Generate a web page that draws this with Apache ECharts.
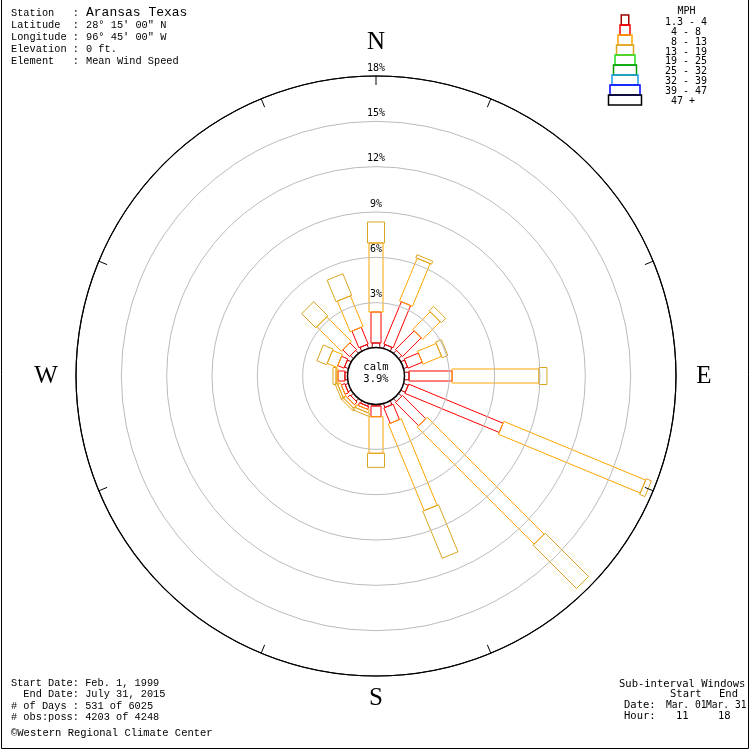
<!DOCTYPE html>
<html><head><meta charset="utf-8">
<script src="https://cdn.jsdelivr.net/npm/echarts@6/dist/echarts.min.js"></script>
<style>html,body{margin:0;padding:0;background:#fff}#c{width:750px;height:750px}</style>
</head><body><div id="c"></div>
<script>
// ---------- data ----------
const directions = ['N','NNE','NE','ENE','E','ESE','SE','SSE','S','SSW','SW','WSW','W','WNW','NW','NNW'];
const speedClassLabels = ['1.3 - 4',' 4 - 8',' 8 - 13','13 - 19','19 - 25','25 - 32','32 - 39','39 - 47',' 47 +'];
// percent of observations per direction, per speed class (MPH)
const freq_1_4   = [0.33, 0.30, 0.30, 0.30, 0.33, 0.35, 0.30, 0.30, 0.13, 0.20, 0.25, 0.25, 0.20, 0.30, 0.30, 0.30];
const freq_4_8   = [2.05, 3.03, 1.75, 1.02, 2.85, 6.76, 2.17, 1.10, 0.71, 0.20, 0.25, 0.25, 0.46, 0.45, 0.62, 1.20];
const freq_8_13  = [4.57, 3.06, 1.64, 1.33, 5.75, 10.16, 10.95, 6.20, 2.42, 0.20, 0.20, 0.20, 0.13, 0.70, 2.30, 2.20];
const freq_13_19 = [1.39, 0.21, 0.41, 0.41, 0.53, 0.37, 4.05, 3.37, 0.93, 0.20, 0.15, 0.15, 0.20, 0.70, 1.32, 1.54];
const calmPercent = 3.9;
const radiusMax = 18;
const radiusStep = 3;
// compass tick marks drawn on the outer ring (degrees clockwise from north)
const ringTickAngles = [0, 22.5, 67.5, 112.5, 157.5, 202.5, 247.5, 292.5, 337.5];

const headerLabels = ['Station   :', 'Latitude  :', 'Longitude :', 'Elevation :', 'Element   :'];
const headerValues = ['Aransas Texas', "28\u00B0 15' 00\" N", "96\u00B0 45' 00\" W", '0 ft.', 'Mean Wind Speed'];
const footerLeft = ['Start Date: Feb. 1, 1999', '  End Date: July 31, 2015', '# of Days : 531 of 6025', '# obs:poss: 4203 of 4248'];
const creditText = '\u00A9Western Regional Climate Center';

// ---------- styles ----------
const classColors = ['#A00000','#FF0000','#FFA500','#DAA520','#22DD22','#009900','#1E9BE6','#0000FF','#000000'];
const classWidths = [7.5, 10, 14, 17, 20, 23, 26, 30, 33];
const serifMono = "'Liberation Mono', 'DejaVu Sans Mono', monospace";
const sansMono = "'DejaVu Sans Mono', monospace";
const sectorDeg = 360 / directions.length;

const classSeries = [freq_1_4, freq_4_8, freq_8_13, freq_13_19];
const segments = [];
directions.forEach((d, i) => {
  let start = 0;
  classSeries.forEach((arr, k) => {
    const v = arr[i];
    if (v > 0) { segments.push([i * sectorDeg, start, start + v, k]); }
    start += v;
  });
});

function renderBar(params, api) {
  const ang = api.value(0), r0 = api.value(1), r1 = api.value(2), k = api.value(3);
  const a = api.coord([0, ang]), b = api.coord([radiusMax, ang]);
  const len = Math.hypot(b[0] - a[0], b[1] - a[1]);
  const ux = (b[0] - a[0]) / len, uy = (b[1] - a[1]) / len;
  const nx = -uy, ny = ux;
  const p0 = api.coord([r0, ang]), p1 = api.coord([r1, ang]);
  const h = classWidths[k] / 2;
  return {
    type: 'polygon',
    shape: { points: [
      [p0[0] + nx * h, p0[1] + ny * h], [p1[0] + nx * h, p1[1] + ny * h],
      [p1[0] - nx * h, p1[1] - ny * h], [p0[0] - nx * h, p0[1] - ny * h]] },
    style: { fill: 'none', stroke: classColors[k], lineWidth: 1 }
  };
}
function renderTick(params, api) {
  const ang = api.value(0);
  const p0 = api.coord([radiusMax * 0.967, ang]), p1 = api.coord([radiusMax, ang]);
  return { type: 'line', shape: { x1: p0[0], y1: p0[1], x2: p1[0], y2: p1[1] }, style: { stroke: '#000', lineWidth: 1 } };
}

const graphics = [];
// frame
graphics.push({ type: 'polyline', shape: { points: [[1.5, 0], [1.5, 748.5], [748.5, 748.5], [748.5, 0]] },
  style: { stroke: '#000', lineWidth: 1, fill: 'none' }, z: 50 });
// header
headerLabels.forEach((t, i) => {
  graphics.push({ type: 'text', x: 11, y: 13 + 12 * i, style: { text: t, font: '10.3px ' + serifMono, fill: '#000', verticalAlign: 'middle' } });
  graphics.push({ type: 'text', x: 86, y: 13 + 12 * i, style: { text: headerValues[i], font: (i === 0 ? '13px ' : '10.3px ') + serifMono, fill: '#000', verticalAlign: 'middle' } });
});
// footer left
footerLeft.forEach((t, i) => {
  graphics.push({ type: 'text', x: 11, y: 683 + 11.5 * i, style: { text: t, font: '10.3px ' + serifMono, fill: '#000', verticalAlign: 'middle' } });
});
graphics.push({ type: 'text', x: 11, y: 733, style: { text: creditText, font: '10.5px ' + serifMono, fill: '#000', verticalAlign: 'middle' } });
// footer right
const fr = [
  ['Sub-interval Windows', 619, 684, 10.5], ['Start', 670, 694, 10.5], ['End', 719, 694, 10.5],
  ['Date:', 624, 705, 10.5], ['Mar. 01', 666, 705, 9.6], ['Mar. 31', 706, 705, 9.6],
  ['Hour:', 624, 716, 10.5], ['11', 676, 716, 10.5], ['18', 718, 716, 10.5]
];
fr.forEach(f => graphics.push({ type: 'text', x: f[1], y: f[2], style: { text: f[0], font: f[3] + 'px ' + sansMono, fill: '#000', verticalAlign: 'middle' } }));
// legend
graphics.push({ type: 'text', x: 686.5, y: 11, style: { text: 'MPH', font: '10px ' + sansMono, fill: '#000', align: 'center', verticalAlign: 'middle' } });
speedClassLabels.forEach((t, k) => {
  const w = classWidths[k];
  graphics.push({ type: 'rect', shape: { x: 625 - w / 2, y: 15 + 10 * k, width: w, height: 10 },
    style: { fill: 'none', stroke: classColors[k], lineWidth: 1.5 } });
  graphics.push({ type: 'text', x: 665, y: 22.5 + 9.85 * k, style: { text: t, font: '10px ' + sansMono, fill: '#000', verticalAlign: 'middle' } });
});
// compass
[['N', 376, 42], ['E', 704, 376], ['S', 376, 698], ['W', 46, 376]].forEach(c => {
  graphics.push({ type: 'text', x: c[1], y: c[2], style: { text: c[0], font: "25px 'Liberation Serif', serif", fill: '#000', align: 'center', verticalAlign: 'middle' } });
});
// calm
graphics.push({ type: 'circle', shape: { cx: 376, cy: 376, r: 28.5 }, style: { fill: '#fff', stroke: '#000', lineWidth: 1.5 }, z: 100 });
graphics.push({ type: 'text', x: 376, y: 367, z: 101, style: { text: 'calm', font: '10.5px ' + sansMono, fill: '#000', align: 'center', verticalAlign: 'middle' } });
graphics.push({ type: 'text', x: 376, y: 379.5, z: 101, style: { text: calmPercent.toFixed(1) + '%', font: '10.5px ' + sansMono, fill: '#000', align: 'center', verticalAlign: 'middle' } });

const chart = echarts.init(document.getElementById('c'), null, { renderer: 'canvas' });
chart.setOption({
  animation: false,
  backgroundColor: '#fff',
  polar: { center: [376, 376], radius: [28, 300] },
  angleAxis: {
    type: 'value', min: 0, max: 360, startAngle: 90, clockwise: true,
    axisLine: { show: true, lineStyle: { color: '#000', width: 1.2 } },
    axisTick: { show: false }, axisLabel: { show: false }, splitLine: { show: false }
  },
  radiusAxis: {
    type: 'value', min: 0, max: radiusMax, interval: radiusStep,
    axisLine: { show: false }, axisTick: { show: false },
    splitLine: { show: true, lineStyle: { color: ['#BBBBBB','#BBBBBB','#BBBBBB','#BBBBBB','#BBBBBB','#BBBBBB','#000000'], width: 1 } },
    axisLabel: { formatter: (v) => v === 0 ? '' : v + '%', margin: 0, align: 'center', verticalAlign: 'bottom', padding: [0, 0, 3, 0],
      fontFamily: sansMono, fontSize: 10, color: '#000' },
    z: 5
  },
  series: [{
    type: 'custom', coordinateSystem: 'polar', renderItem: renderBar,
    encode: { angle: 0, radius: [1, 2] },
    data: segments, z: 3
  }, {
    type: 'custom', coordinateSystem: 'polar', renderItem: renderTick,
    encode: { angle: 0, radius: 1 },
    data: ringTickAngles.map(a => [a, radiusMax]), z: 4
  }],
  graphic: graphics
});
</script></body></html>
